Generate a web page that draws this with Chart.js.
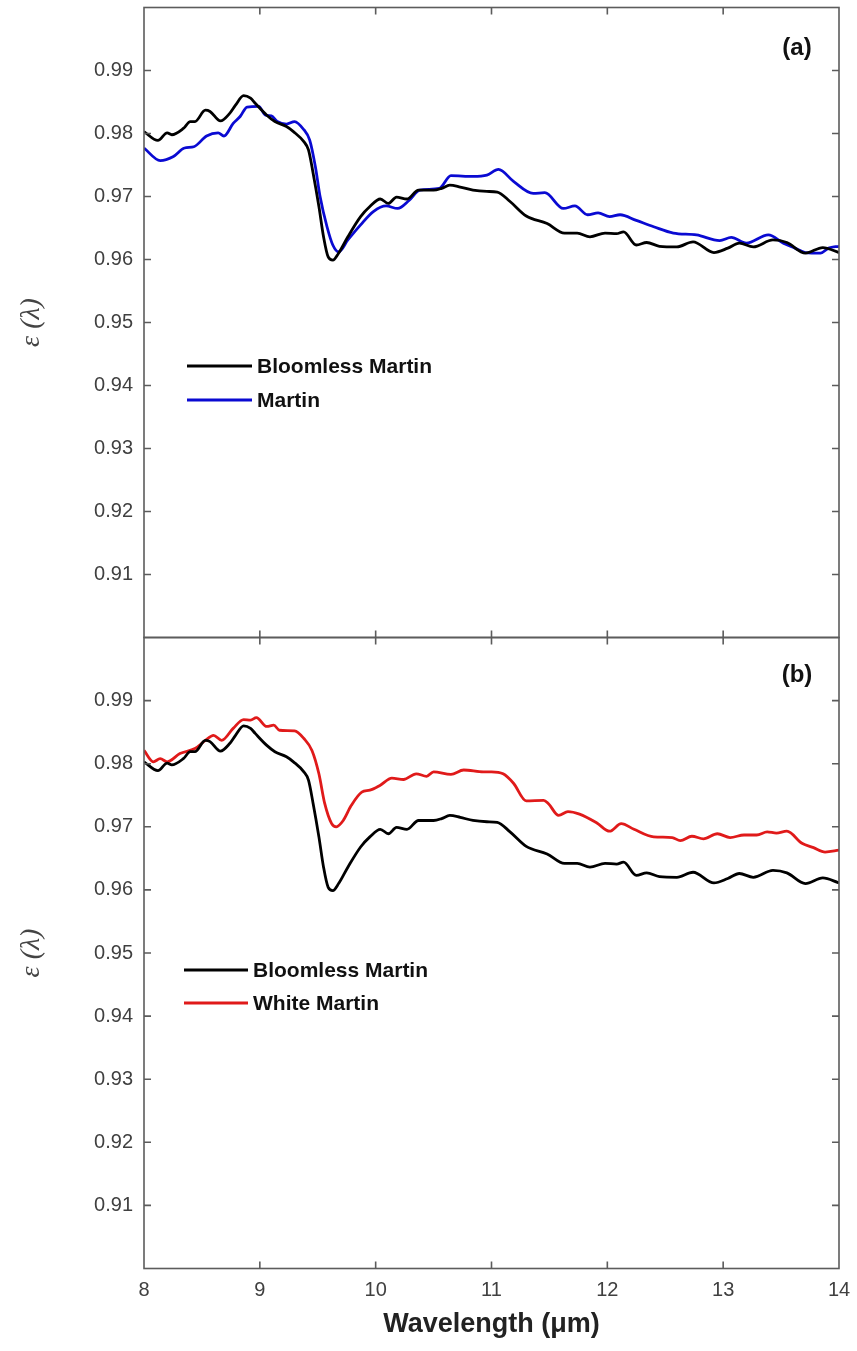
<!DOCTYPE html>
<html>
<head>
<meta charset="utf-8">
<title>Emissivity spectra</title>
<script src="https://cdn.jsdelivr.net/npm/chart.js@4.4.1/dist/chart.umd.min.js"></script>
<style>
  body { margin: 0; background: #fff; }
  canvas { position: absolute; left: 0; }
  #panelA { top: 0; }
  #panelB { top: 630px; }
</style>
</head>
<body>
<canvas id="panelA" width="857" height="645"></canvas>
<canvas id="panelB" width="857" height="721"></canvas>
<script>
// tick values
const xTicks = [8, 9, 10, 11, 12, 13, 14];
const yTicks = [0.91, 0.92, 0.93, 0.94, 0.95, 0.96, 0.97, 0.98, 0.99];

// Bloomless Martin (black, both panels)
const bloomlessWl = [8.00, 8.12, 8.20, 8.24, 8.34, 8.40, 8.44, 8.53, 8.57, 8.66, 8.74, 8.79, 8.86, 8.92, 8.96,
  9.06, 9.13, 9.23, 9.29, 9.38, 9.42, 9.46, 9.51, 9.55, 9.59, 9.63, 9.68, 9.76, 9.87, 9.95,
  10.04, 10.11, 10.18, 10.27, 10.37, 10.50, 10.57, 10.64, 10.73, 10.84, 10.96, 11.05, 11.16, 11.30, 11.48,
  11.63, 11.74, 11.85, 11.98, 12.08, 12.14, 12.25, 12.34, 12.45, 12.60, 12.74, 12.92, 13.04, 13.14, 13.26,
  13.43, 13.55, 13.71, 13.86, 14.00];
const bloomlessEm = [0.9803, 0.9789, 0.9801, 0.9798, 0.9808, 0.9819, 0.9819, 0.9837, 0.9835, 0.9820, 0.9832, 0.9845, 0.9860, 0.9856, 0.9848,
  0.9829, 0.9819, 0.9811, 0.9803, 0.9787, 0.9774, 0.9737, 0.9684, 0.9636, 0.9604, 0.9599, 0.9610, 0.9636, 0.9668, 0.9684,
  0.9696, 0.9689, 0.9699, 0.9696, 0.9710, 0.9710, 0.9713, 0.9718, 0.9715, 0.9710, 0.9708, 0.9707, 0.9692, 0.9669, 0.9657,
  0.9642, 0.9642, 0.9636, 0.9642, 0.9641, 0.9644, 0.9623, 0.9627, 0.9621, 0.9620, 0.9628, 0.9611, 0.9618, 0.9626, 0.9620,
  0.9631, 0.9627, 0.9610, 0.9619, 0.9611];

// Martin (blue, panel a)
const martinWl = [8.00, 8.14, 8.25, 8.35, 8.43, 8.54, 8.64, 8.69, 8.77, 8.83, 8.89, 8.99, 9.05, 9.10, 9.15,
  9.23, 9.30, 9.38, 9.43, 9.48, 9.52, 9.58, 9.63, 9.68, 9.76, 9.87, 9.98, 10.09, 10.19, 10.29,
  10.38, 10.55, 10.65, 10.84, 10.96, 11.06, 11.19, 11.36, 11.46, 11.62, 11.72, 11.83, 11.92, 12.02, 12.11,
  12.25, 12.40, 12.57, 12.77, 12.97, 13.07, 13.20, 13.39, 13.52, 13.62, 13.71, 13.84, 13.91, 14.00];
const martinEm = [0.9777, 0.9757, 0.9763, 0.9777, 0.9779, 0.9796, 0.9801, 0.9796, 0.9816, 0.9827, 0.9842, 0.9843, 0.9829, 0.9828, 0.9819,
  0.9815, 0.9819, 0.9806, 0.9790, 0.9747, 0.9700, 0.9652, 0.9623, 0.9612, 0.9631, 0.9655, 0.9676, 0.9685, 0.9681, 0.9694,
  0.9710, 0.9713, 0.9733, 0.9732, 0.9734, 0.9743, 0.9724, 0.9705, 0.9706, 0.9681, 0.9685, 0.9671, 0.9674, 0.9668, 0.9671,
  0.9662, 0.9652, 0.9642, 0.9639, 0.9630, 0.9635, 0.9626, 0.9639, 0.9626, 0.9618, 0.9611, 0.9610, 0.9618, 0.9621];

// White Martin (red, panel b)
const whiteWl = [8.00, 8.08, 8.14, 8.20, 8.31, 8.44, 8.53, 8.60, 8.67, 8.77, 8.86, 8.92, 8.97, 9.06, 9.12,
  9.17, 9.30, 9.38, 9.45, 9.51, 9.56, 9.62, 9.66, 9.72, 9.79, 9.88, 9.95, 10.04, 10.14, 10.24,
  10.35, 10.44, 10.50, 10.65, 10.76, 10.93, 11.00, 11.10, 11.19, 11.30, 11.45, 11.49, 11.58, 11.66, 11.76,
  11.91, 12.02, 12.12, 12.23, 12.40, 12.56, 12.63, 12.73, 12.83, 12.95, 13.06, 13.18, 13.29, 13.38, 13.46,
  13.55, 13.68, 13.78, 13.88, 14.00];
const whiteEm = [0.9821, 0.9803, 0.9808, 0.9803, 0.9816, 0.9824, 0.9837, 0.9845, 0.9837, 0.9856, 0.9870, 0.9869, 0.9873, 0.9859, 0.9861,
  0.9853, 0.9852, 0.9840, 0.9821, 0.9784, 0.9737, 0.9705, 0.9700, 0.9710, 0.9734, 0.9755, 0.9758, 0.9766, 0.9777, 0.9775,
  0.9784, 0.9780, 0.9787, 0.9783, 0.9790, 0.9787, 0.9787, 0.9784, 0.9769, 0.9741, 0.9742, 0.9737, 0.9718, 0.9724, 0.9720,
  0.9706, 0.9693, 0.9705, 0.9696, 0.9684, 0.9683, 0.9678, 0.9685, 0.9681, 0.9689, 0.9683, 0.9687, 0.9687, 0.9692, 0.9690,
  0.9693, 0.9674, 0.9667, 0.9660, 0.9663];

const FONT = "'Liberation Sans', Arial, sans-serif";

function pts(xs, ys) {
    return xs.map((x, i) => ({ x: x, y: ys[i] }));
}

function lineSet(label, xs, ys, color) {
    return {
        label: label,
        data: pts(xs, ys),
        borderColor: color,
        backgroundColor: color,
        borderWidth: 2.8,
        pointRadius: 0,
        cubicInterpolationMode: 'monotone'
    };
}

// box, inward ticks on all four sides, legend and panel tag
const panelDecor = {
    id: 'panelDecor',
    afterDatasetsDraw(chart, args, opts) {
        const { ctx, chartArea: { left, right, top, bottom }, scales: { x, y } } = chart;
        ctx.save();
        ctx.strokeStyle = '#5c5c5c';
        ctx.lineWidth = 1.6;
        ctx.strokeRect(left, top, right - left, bottom - top);
        ctx.beginPath();
        const len = 7;
        yTicks.forEach(v => {
            const py = y.getPixelForValue(v);
            ctx.moveTo(left, py); ctx.lineTo(left + len, py);
            ctx.moveTo(right, py); ctx.lineTo(right - len, py);
        });
        xTicks.slice(1, -1).forEach(v => {
            const px = x.getPixelForValue(v);
            ctx.moveTo(px, bottom); ctx.lineTo(px, bottom - len);
            ctx.moveTo(px, top); ctx.lineTo(px, top + len);
        });
        ctx.stroke();

        // legend
        ctx.font = 'bold 21px ' + FONT;
        ctx.textBaseline = 'middle';
        ctx.textAlign = 'left';
        chart.data.datasets.forEach((ds, i) => {
            const ly = opts.legendY + i * opts.legendDy;
            ctx.strokeStyle = ds.borderColor;
            ctx.lineWidth = 3;
            ctx.beginPath();
            ctx.moveTo(opts.legendX0, ly);
            ctx.lineTo(opts.legendX1, ly);
            ctx.stroke();
            ctx.fillStyle = '#111';
            ctx.fillText(ds.label, opts.legendX1 + 5, ly + 1);
        });

        // panel tag
        ctx.font = 'bold 24px ' + FONT;
        ctx.textAlign = 'center';
        ctx.fillStyle = '#111';
        ctx.fillText(opts.tag, opts.tagX, opts.tagY);
        ctx.restore();
    }
};

function yScale() {
    return {
        type: 'linear',
        min: 0.90,
        max: 1.00,
        afterBuildTicks: s => { s.ticks = yTicks.map(v => ({ value: v })); },
        afterFit: s => { s.width = 144; s.paddingTop = 0; s.paddingBottom = 0; },
        grid: { display: false, drawTicks: false },
        border: { display: false },
        ticks: {
            padding: 11,
            color: '#404040',
            font: { family: FONT, size: 20 },
            callback: v => v.toFixed(2)
        },
        title: {
            display: true,
            text: 'ε (λ)',
            color: '#444',
            padding: { top: 15, bottom: 0 },
            font: { family: "'Liberation Serif', 'DejaVu Serif', serif", size: 28, style: 'italic' }
        }
    };
}

function makePanel(id, datasets, xOpts, padding, decor) {
    return new Chart(document.getElementById(id), {
        type: 'line',
        data: { datasets: datasets },
        options: {
            responsive: false,
            animation: false,
            layout: { padding: padding, autoPadding: false },
            plugins: {
                legend: { display: false },
                tooltip: { enabled: false },
                panelDecor: decor
            },
            scales: { x: xOpts, y: yScale() }
        },
        plugins: [panelDecor]
    });
}

// panel (a)
makePanel('panelA',
    [lineSet('Bloomless Martin', bloomlessWl, bloomlessEm, '#000000'),
     lineSet('Martin', martinWl, martinEm, '#0a0ad2')],
    { type: 'linear', min: 8, max: 14, display: false },
    { top: 7.5, right: 18, bottom: 7.5, left: 0 },
    { legendX0: 187, legendX1: 252, legendY: 366, legendDy: 34, tag: '(a)', tagX: 797, tagY: 48 });

// panel (b)
makePanel('panelB',
    [lineSet('Bloomless Martin', bloomlessWl, bloomlessEm, '#000000'),
     lineSet('White Martin', whiteWl, whiteEm, '#e01a1a')],
    {
        type: 'linear',
        min: 8,
        max: 14,
        afterBuildTicks: s => { s.ticks = xTicks.map(v => ({ value: v })); },
        afterFit: s => { s.height = 72.5; s.paddingLeft = 0; s.paddingRight = 0; },
        grid: { display: false, drawTicks: false },
        border: { display: false },
        ticks: { padding: 10, color: '#404040', font: { family: FONT, size: 20 }, maxRotation: 0 },
        title: {
            display: true,
            text: 'Wavelength (μm)',
            color: '#222',
            padding: 0,
            font: { family: FONT, size: 27, weight: 'bold' }
        }
    },
    { top: 7.5, right: 18, bottom: 10, left: 0 },
    { legendX0: 184, legendX1: 248, legendY: 340, legendDy: 33, tag: '(b)', tagX: 797, tagY: 45 });
</script>
</body>
</html>
